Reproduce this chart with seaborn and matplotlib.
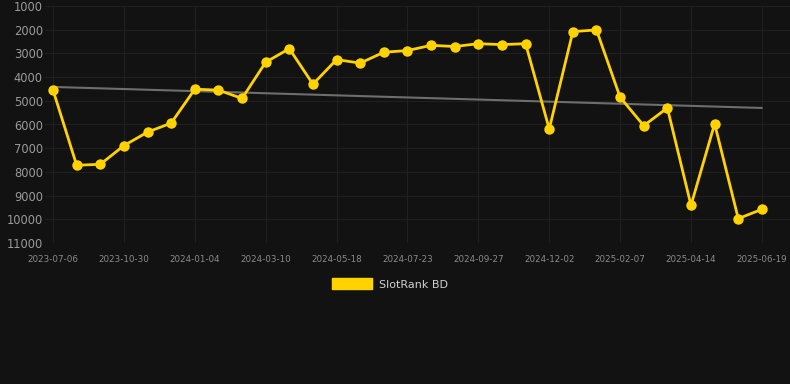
import numpy as np
import pandas as pd
import matplotlib
matplotlib.use("Agg")
import matplotlib.pyplot as plt
import seaborn as sns
from matplotlib.patches import Patch

# ---- data ----
tick_dates = ["2023-07-06", "2023-10-30", "2024-01-04", "2024-03-10", "2024-05-18",
              "2024-07-23", "2024-09-27", "2024-12-02", "2025-02-07", "2025-04-14",
              "2025-06-19"]
rank_values = [4550, 7720, 7680, 6890, 6320, 5940, 4510, 4550, 4900, 3370,
               2800, 4300, 3260, 3410, 2950, 2880, 2660, 2710, 2590, 2630,
               2590, 6190, 2080, 2010, 4850, 6050, 5300, 9410, 5970, 9970,
               9580]
y_ticks = [1000, 2000, 3000, 4000, 5000, 6000, 7000, 8000, 9000, 10000, 11000]
series_name = "SlotRank BD"

BG = "#121212"
GRID = "#202020"
YELLOW = "#FFD200"

sns.set_theme(style="dark", rc={
    "figure.facecolor": BG, "axes.facecolor": BG,
    "axes.edgecolor": BG, "grid.color": GRID,
})
plt.rcParams["font.family"] = ["DejaVu Sans"]

df = pd.DataFrame({"idx": np.arange(len(rank_values)), "rank": rank_values})

fig = plt.figure(figsize=(7.9, 3.84), dpi=100)
ax = fig.add_axes([45 / 790, (384 - 243) / 384, (790 - 45) / 790, (243 - 6) / 384])

# trend line (linear regression of the series)
coef = np.polyfit(df["idx"], df["rank"], 1)
trend = pd.DataFrame({"idx": df["idx"], "trend": np.polyval(coef, df["idx"])})
sns.lineplot(data=trend, x="idx", y="trend", ax=ax, color="#6e6e6e", linewidth=1.5,
             zorder=2)

sns.lineplot(data=df, x="idx", y="rank", ax=ax, color=YELLOW, linewidth=2.0,
             marker="o", markersize=7.5, markeredgewidth=0, zorder=3)

ax.set_ylim(11000, 1000)
ax.set_xlim(-0.34, 31.19)
ax.set_yticks(y_ticks)
ax.set_yticklabels([str(v) for v in y_ticks])
tick_pos = np.arange(0, len(rank_values), 3)
ax.set_xticks(tick_pos)
ax.set_xticklabels(tick_dates)

ax.grid(True, color=GRID, linewidth=0.8)
for s in ax.spines.values():
    s.set_visible(False)
ax.tick_params(axis="y", colors="#9a9a9a", labelsize=8.3, length=0, pad=1.5)
ax.tick_params(axis="x", colors="#8a8a8a", labelsize=6.3, length=5, width=0.8,
               pad=3.5, color=GRID)
for lab in ax.get_yticklabels():
    lab.set_color("#9a9a9a")
for lab in ax.get_xticklabels():
    lab.set_color("#8a8a8a")
ax.set_xlabel("")
ax.set_ylabel("")

fig.legend(handles=[Patch(facecolor=YELLOW, edgecolor=YELLOW, label=series_name)],
           loc="center", bbox_to_anchor=(390 / 790, 1 - 284 / 384),
           frameon=False, fontsize=8.0, labelcolor="#d0d0d0",
           handlelength=3.6, handleheight=1.1, handletextpad=0.6)

fig.savefig("out.png", dpi=100, facecolor=BG)
